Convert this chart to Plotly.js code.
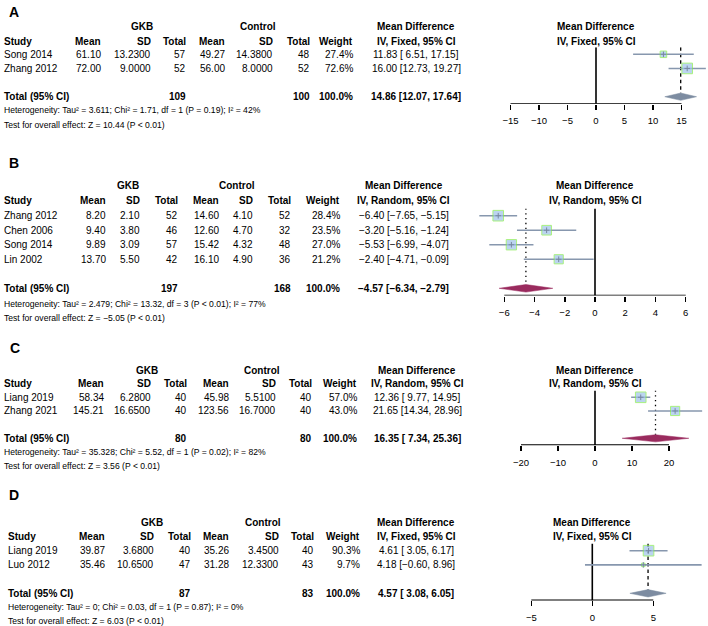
<!DOCTYPE html>
<html>
<head>
<meta charset="utf-8">
<script src="https://cdn.plot.ly/plotly-3.0.1.min.js"></script>
<style>html,body{margin:0;padding:0;background:#fff;}#chart{width:708px;height:626px;}</style>
</head>
<body>
<div id="chart"></div>
<script>
// ---------------- DATA ----------------
// Panel A
const studiesA = ['Song 2014', 'Zhang 2012'];
const gkbMeanA = [61.10, 72.00];
const gkbSDA = [13.2300, 9.0000];
const gkbNA = [57, 52];
const ctlMeanA = [49.27, 56.00];
const ctlSDA = [14.3800, 8.0000];
const ctlNA = [48, 52];
const weightA = [27.4, 72.6];
const mdA = [11.83, 16.00];
const loA = [6.51, 12.73];
const hiA = [17.15, 19.27];
const totalNA = [109, 100];
const totalWeightA = 100.0;
const summaryA = [14.86, 12.07, 17.64];
const hetA = ['3.611', '1.71', '1', '= 0.19', '42'];
const testA = ['10.44', '< 0.01'];
const ticksA = [-15, -10, -5, 0, 5, 10, 15];

// Panel B
const studiesB = ['Zhang 2012', 'Chen 2006', 'Song 2014', 'Lin 2002'];
const gkbMeanB = [8.20, 9.40, 9.89, 13.70];
const gkbSDB = [2.10, 3.80, 3.09, 5.50];
const gkbNB = [52, 46, 57, 42];
const ctlMeanB = [14.60, 12.60, 15.42, 16.10];
const ctlSDB = [4.10, 4.70, 4.32, 4.90];
const ctlNB = [52, 32, 48, 36];
const weightB = [28.4, 23.5, 27.0, 21.2];
const mdB = [-6.40, -3.20, -5.53, -2.40];
const loB = [-7.65, -5.16, -6.99, -4.71];
const hiB = [-5.15, -1.24, -4.07, -0.09];
const totalNB = [197, 168];
const totalWeightB = 100.0;
const summaryB = [-4.57, -6.34, -2.79];
const hetB = ['2.479', '13.32', '3', '< 0.01', '77'];
const testB = ['\u22125.05', '< 0.01'];
const ticksB = [-6, -4, -2, 0, 2, 4, 6];

// Panel C
const studiesC = ['Liang 2019', 'Zhang 2021'];
const gkbMeanC = [58.34, 145.21];
const gkbSDC = [6.2800, 16.6500];
const gkbNC = [40, 40];
const ctlMeanC = [45.98, 123.56];
const ctlSDC = [5.5100, 16.7000];
const ctlNC = [40, 40];
const weightC = [57.0, 43.0];
const mdC = [12.36, 21.65];
const loC = [9.77, 14.34];
const hiC = [14.95, 28.96];
const totalNC = [80, 80];
const totalWeightC = 100.0;
const summaryC = [16.35, 7.34, 25.36];
const hetC = ['35.328', '5.52', '1', '= 0.02', '82'];
const testC = ['3.56', '< 0.01'];
const ticksC = [-20, -10, 0, 10, 20];

// Panel D
const studiesD = ['Liang 2019', 'Luo 2012'];
const gkbMeanD = [39.87, 35.46];
const gkbSDD = [3.6800, 10.6500];
const gkbND = [40, 47];
const ctlMeanD = [35.26, 31.28];
const ctlSDD = [3.4500, 12.3300];
const ctlND = [40, 43];
const weightD = [90.3, 9.7];
const mdD = [4.61, 4.18];
const loD = [3.05, -0.60];
const hiD = [6.17, 8.96];
const totalND = [87, 83];
const totalWeightD = 100.0;
const summaryD = [4.57, 3.08, 6.05];
const hetD = ['0', '0.03', '1', '= 0.87', '0'];
const testD = ['6.03', '< 0.01'];
const ticksD = [-5, 0, 5];

const panelLabels = ['A', 'B', 'C', 'D'];
const methodLabels = ['IV, Fixed, 95% CI', 'IV, Random, 95% CI', 'IV, Random, 95% CI', 'IV, Fixed, 95% CI'];
const models = ['fixed', 'random', 'random', 'fixed'];

// --------------- build panel tables from the arrays ---------------
const panels = [
  {studies: studiesA, gm: gkbMeanA, gs: gkbSDA, gn: gkbNA, cm: ctlMeanA, cs: ctlSDA, cn: ctlNA, w: weightA, md: mdA, lo: loA, hi: hiA, tn: totalNA, tw: totalWeightA, sum: summaryA, het: hetA, test: testA, ticks: ticksA, sdDec: 4},
  {studies: studiesB, gm: gkbMeanB, gs: gkbSDB, gn: gkbNB, cm: ctlMeanB, cs: ctlSDB, cn: ctlNB, w: weightB, md: mdB, lo: loB, hi: hiB, tn: totalNB, tw: totalWeightB, sum: summaryB, het: hetB, test: testB, ticks: ticksB, sdDec: 2},
  {studies: studiesC, gm: gkbMeanC, gs: gkbSDC, gn: gkbNC, cm: ctlMeanC, cs: ctlSDC, cn: ctlNC, w: weightC, md: mdC, lo: loC, hi: hiC, tn: totalNC, tw: totalWeightC, sum: summaryC, het: hetC, test: testC, ticks: ticksC, sdDec: 4},
  {studies: studiesD, gm: gkbMeanD, gs: gkbSDD, gn: gkbND, cm: ctlMeanD, cs: ctlSDD, cn: ctlND, w: weightD, md: mdD, lo: loD, hi: hiD, tn: totalND, tw: totalWeightD, sum: summaryD, het: hetD, test: testD, ticks: ticksD, sdDec: 4}
];

// --------------- layout positions (pixels) ---------------
const pos = [
  {label: [6.7, 12], h1: 27, h2: 41, row1: 54.3, total: 96.7, het: 110, test: 125.3, study: 2.3,
   cols: [103.3, 152.7, 188.3, 227.3, 275, 311.7, 355], gkbC: 141.7, ctlC: 258.3, mdC: 416.5,
   zero: 596, ppu: 5.7, L: 480, R: 708},
  {label: [7.3, 163.3], h1: 185.7, h2: 200.7, row1: 215.7, total: 288.3, het: 304, test: 318.3, study: 1.7,
   cols: [108.3, 142.3, 180, 220.7, 255, 292.7, 341.7], gkbC: 128.3, ctlC: 237.3, mdC: 403.7,
   zero: 595, ppu: 15.12, L: 470, R: 708},
  {label: [8, 348.3], h1: 370, h2: 383.3, row1: 397.3, total: 438.3, het: 452.3, test: 465.7, study: 2.3,
   cols: [106, 153.3, 189, 231, 278.3, 314, 359.3], gkbC: 146.7, ctlC: 261.7, mdC: 417,
   zero: 595, ppu: 3.7, L: 480, R: 708},
  {label: [6.7, 495], h1: 522.7, h2: 536.7, row1: 550.7, total: 593.3, het: 606.7, test: 621, study: 6,
   cols: [107.3, 156, 192.7, 231, 280.7, 315.7, 361.7], gkbC: 152.3, ctlC: 263.3, mdC: 416,
   zero: 592.3, ppu: 12.2, L: 480, R: 708}
];

const W = 708, H = 626;
const FONT = 'Liberation Sans, Arial, sans-serif';
const px = v => v / W;
const py = v => 1 - v / H;

function fmt(v, d) { return (v < 0 ? '\u2212' : '') + Math.abs(v).toFixed(d); }
function padTo(s, n) { while (s.length < n) s = ' ' + s; return s; }

const annotations = [];
const shapes = [];
const traces = [];
const layout = {
  width: W, height: H, margin: {l: 0, r: 0, t: 0, b: 0},
  paper_bgcolor: '#fff', plot_bgcolor: 'rgba(0,0,0,0)',
  showlegend: false, font: {family: FONT, color: '#000', size: 10}
};

function ann(text, x, y, anchor, size) {
  annotations.push({text: text, x: px(x), y: py(y), xref: 'paper', yref: 'paper',
    xanchor: anchor, yanchor: 'middle', showarrow: false,
    font: {family: FONT, size: size || 10, color: '#000'}});
}

panels.forEach((p, i) => {
  const q = pos[i];
  const n = p.studies.length;
  const s = (q.total - q.row1) / (n + 1);
  const rowPx = k => q.row1 + k * s;
  const sfx = i === 0 ? '' : String(i + 1);
  const xa = 'x' + sfx, ya = 'y' + sfx;

  ann('<b>' + panelLabels[i] + '</b>', q.label[0], q.label[1], 'left', 14);
  ann('<b>GKB</b>', q.gkbC, q.h1, 'center');
  ann('<b>Control</b>', q.ctlC, q.h1, 'center');
  ann('<b>Mean Difference</b>', q.mdC, q.h1, 'center');
  ann('<b>' + methodLabels[i] + '</b>', q.mdC, q.h2, 'center');
  ann('<b>Mean Difference</b>', q.zero, q.h1, 'center');
  ann('<b>' + methodLabels[i] + '</b>', q.zero, q.h2, 'center');
  ann('<b>Study</b>', q.study, q.h2, 'left');
  ['Mean', 'SD', 'Total', 'Mean', 'SD', 'Total', 'Weight'].forEach((h, j) => ann('<b>' + h + '</b>', q.cols[j], q.h2, 'right'));

  const allMd = p.md.concat([p.sum[0]]).map(v => fmt(v, 2));
  const allLo = p.lo.concat([p.sum[1]]).map(v => fmt(v, 2));
  const allHi = p.hi.concat([p.sum[2]]).map(v => fmt(v, 2));
  const lm = Math.max(...allMd.map(t => t.length));
  const ll = Math.max(...allLo.map(t => t.length));
  const lh = Math.max(...allHi.map(t => t.length));
  const ciStr = k => padTo(allMd[k], lm) + ' [' + padTo(allLo[k], ll) + ', ' + padTo(allHi[k], lh) + ']';

  for (let k = 0; k < n; k++) {
    const y = rowPx(k);
    ann(p.studies[k], q.study, y, 'left');
    const vals = [fmt(p.gm[k], 2), fmt(p.gs[k], p.sdDec), String(p.gn[k]), fmt(p.cm[k], 2), fmt(p.cs[k], p.sdDec), String(p.cn[k]), p.w[k].toFixed(1) + '%'];
    vals.forEach((v, j) => ann(v, q.cols[j], y, 'right'));
    ann(ciStr(k), q.mdC, y, 'center');
  }
  const ty = q.total;
  ann('<b>Total (95% CI)</b>', q.study, ty, 'left');
  ann('<b>' + p.tn[0] + '</b>', q.cols[2], ty, 'right');
  ann('<b>' + p.tn[1] + '</b>', q.cols[5], ty, 'right');
  ann('<b>' + p.tw.toFixed(1) + '%</b>', q.cols[6], ty, 'right');
  ann('<b>' + ciStr(n) + '</b>', q.mdC, ty, 'center');
  ann('Heterogeneity: Tau\u00b2 = ' + p.het[0] + '; Chi\u00b2 = ' + p.het[1] + ', df = ' + p.het[2] + ' (P ' + p.het[3] + '); I\u00b2 = ' + p.het[4] + '%', q.study, q.het, 'left', 8.6);
  ann('Test for overall effect: Z = ' + p.test[0] + ' (P ' + p.test[1] + ')', q.study, q.test, 'left', 8.6);

  const topPx = q.row1 - 0.5 * s, botPx = q.total + 0.5 * s;
  const yTop = 0.5, yBot = n + 2.5;
  layout['xaxis' + sfx] = {
    domain: [px(q.L), px(q.R)], range: [(q.L - q.zero) / q.ppu, (q.R - q.zero) / q.ppu],
    anchor: ya, tickvals: p.ticks, ticks: 'outside', ticklen: 5, tickwidth: 1.5, tickcolor: '#000',
    showline: false, linewidth: 0, linecolor: 'rgba(0,0,0,0)', showgrid: false, zeroline: false,
    fixedrange: true, ticklabelstandoff: 3,
    tickfont: {family: FONT, size: 9.5, color: '#000'}
  };
  layout['yaxis' + sfx] = {
    domain: [py(botPx), py(topPx)], range: [yBot, yTop], anchor: xa, visible: false,
    showgrid: false, zeroline: false, showline: false, fixedrange: true
  };

  shapes.push({type: 'line', xref: xa, yref: ya, x0: 0, x1: 0, y0: yTop, y1: yBot, line: {color: '#000', width: 1.6}, layer: 'below'});
  const tIdx = n + 2, dh = 0.26;
  shapes.push({type: 'line', xref: xa, yref: ya, x0: p.sum[0], x1: p.sum[0], y0: yTop, y1: tIdx - dh,
    line: {color: '#000', width: 1.3, dash: models[i] === 'fixed' ? '3.5px,3px' : '1.3px,3.5px'}, layer: 'below'});

  // axis line between the first and last tick
  traces.push({type: 'scatter', mode: 'lines', x: [p.ticks[0], p.ticks[p.ticks.length - 1]], y: [yBot, yBot],
    xaxis: xa, yaxis: ya, cliponaxis: false, line: {color: '#000', width: 1.6}, hoverinfo: 'skip'});

  const cx = [], cy = [];
  for (let k = 0; k < n; k++) { cx.push(p.lo[k], p.hi[k], null); cy.push(k + 1, k + 1, null); }
  traces.push({type: 'scatter', mode: 'lines', x: cx, y: cy, xaxis: xa, yaxis: ya,
    line: {color: '#8797ae', width: 1.6}, hoverinfo: 'skip'});
  const wmax = Math.max(...p.w);
  const yRows = p.studies.map((_, k) => k + 1);
  traces.push({type: 'scatter', mode: 'markers', x: p.md, y: yRows, xaxis: xa, yaxis: ya, cliponaxis: false,
    marker: {symbol: 'square', size: p.w.map(w => 10.6 * Math.sqrt(w / wmax)), color: '#9fc3ea', line: {color: '#86ec4a', width: 1}},
    hoverinfo: 'skip'});
  traces.push({type: 'scatter', mode: 'markers', x: p.md, y: yRows, xaxis: xa, yaxis: ya, cliponaxis: false,
    marker: {symbol: 'cross-thin', size: 4, line: {color: '#7888a0', width: 1}}, hoverinfo: 'skip'});
  const dcol = models[i] === 'fixed' ? '#7d8ca1' : '#9a2b5e';
  traces.push({type: 'scatter', mode: 'lines', x: [p.sum[1], p.sum[0], p.sum[2], p.sum[0], p.sum[1]],
    y: [tIdx, tIdx - dh, tIdx, tIdx + dh, tIdx], xaxis: xa, yaxis: ya, fill: 'toself', fillcolor: dcol,
    line: {color: dcol, width: 0.5}, hoverinfo: 'skip'});
});

layout.annotations = annotations;
layout.shapes = shapes;
Plotly.newPlot('chart', traces, layout, {displayModeBar: false, staticPlot: true});
</script>
</body>
</html>
